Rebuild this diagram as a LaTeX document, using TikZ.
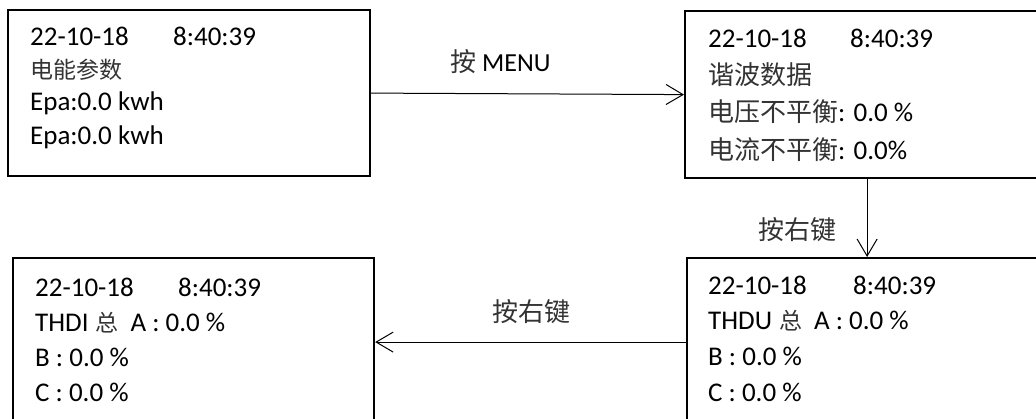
\documentclass[tikz,border=0pt]{standalone}
\usepackage{fontspec}
\setmainfont{Carlito}
\newfontfamily\cjkfont{Noto Sans CJK SC}
\usetikzlibrary{arrows.meta}
\newcommand\zhA[1]{{\cjkfont\fontsize{23}{26}\selectfont\color{black!80}#1}}
\newcommand\zhB[1]{{\cjkfont\fontsize{26}{28}\selectfont\color{black!80}#1}}
\begin{document}
\begin{tikzpicture}[x=1pt,y=-1pt,
  screen/.style={draw, line width=2.2pt, rectangle, inner sep=0pt, anchor=north west},
  txt/.style={inner sep=0pt, anchor=base west, font=\fontsize{27}{30}\selectfont},
  lbl/.style={inner sep=0pt, anchor=base west, font=\fontsize{26}{28}\selectfont},
  arr/.style={-{Straight Barb[length=17pt,width=20pt]}, line width=1pt}]
\clip (0,0) rectangle (1036,419);
\fill[white] (0,0) rectangle (1036,419);
% boxes
\node[screen, minimum width=362pt, minimum height=166pt] (b1) at (7,9) {};
\node[screen, minimum width=364pt, minimum height=167pt] (b2) at (684,10) {};
\node[screen, minimum width=361pt, minimum height=168pt] (b3) at (12,257) {};
\node[screen, minimum width=360pt, minimum height=168pt] (b4) at (686,257) {};
% box 1 text
\node[txt] (t11) at (30,46) {\makebox[143pt][l]{22-10-18}8:40:39};
\node[txt] (t12) at (30,79) {\zhA{电能参数}};
\node[txt] (t13) at (30,111) {Epa:0.0 kwh};
\node[txt] (t14) at (30,145) {Epa:0.0 kwh};
% box 2 text
\node[txt] (t21) at (708,48) {\makebox[142pt][l]{22-10-18}8:40:39};
\node[txt] (t22) at (708,85) {\zhB{谐波数据}};
\node[txt] (t23) at (708,122) {\zhB{电压不平衡}: 0.0 \%};
\node[txt] (t24) at (708,160) {\zhB{电流不平衡}: 0.0\%};
% box 3 text
\node[txt] (t31) at (35,297) {\makebox[143pt][l]{22-10-18}8:40:39};
\node[txt] (t32) at (35,332) {THDI\hspace{7pt}\zhA{总}\hspace{12pt}A : 0.0 \%};
\node[txt] (t33) at (35,367) {B : 0.0 \%};
\node[txt] (t34) at (35,402) {C : 0.0 \%};
% box 4 text
\node[txt] (t41) at (708,295) {\makebox[145pt][l]{22-10-18}8:40:39};
\node[txt] (t42) at (708,330) {THDU\hspace{7pt}\zhA{总}\hspace{12pt}A : 0.0 \%};
\node[txt] (t43) at (708,366) {B : 0.0 \%};
\node[txt] (t44) at (708,402) {C : 0.0 \%};
% connectors
\draw[arr] (b1.east) -- (b2.west);
\draw[arr] (b2.south) -- (b4.north);
\draw[arr] (b4.west) -- (b3.east);
% labels
\node[lbl] (l1) at (450,72) {\zhB{按} MENU};
\node[lbl] (l2) at (758,240) {\zhB{按右键}};
\node[lbl] (l3) at (492,322) {\zhB{按右键}};
\end{tikzpicture}
\end{document}
